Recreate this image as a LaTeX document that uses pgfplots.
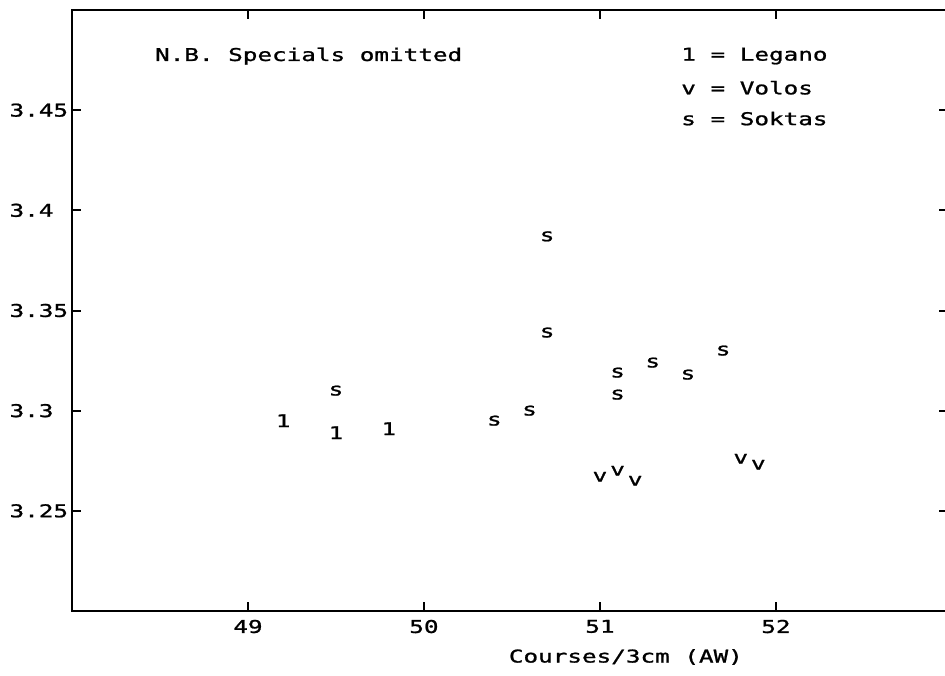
\documentclass[border=0pt]{standalone}
\usepackage{fontspec}
\setmainfont{DejaVu Sans Mono}[FakeStretch=1.38, FakeBold=1.2]
\usepackage{pgfplots}
\pgfplotsset{compat=1.18}

\begin{document}
\fontsize{8.8}{11}\selectfont
\begin{tikzpicture}
% page = 945 x 675 px at 0.5pt per px
\useasboundingbox (-36pt,-32pt) rectangle (436.5pt,305.5pt);
\begin{axis}[
    scale only axis,
    width=438.2pt, height=300.5pt,
    xmin=48, xmax=52.98,
    ymin=3.2, ymax=3.5,
    axis line style={line width=1pt},
    tick style={line width=1pt, black},
    tick align=inside,
    major tick length=4.5pt,
    xtick={49,50,51,52},
    xticklabels={49,50,51,52},
    ytick={3.25,3.3,3.35,3.4,3.45},
    yticklabels={3.25,3.3,3.35,3.4,3.45},
    /pgf/number format/assume math mode=true,
    xticklabel style={yshift=-1.3pt},
    yticklabel style={text width=29pt, align=left, anchor=east, inner xsep=0pt, xshift=-2pt},
    xlabel={Courses/3cm (AW)},
    xlabel style={at={(rel axis cs:0.632,0)}, anchor=center, yshift=-23pt},
    text mark as node=true,
]
\addplot[only marks, mark=text, text mark={1}] coordinates {
    (49.2,3.295) (49.5,3.289) (49.8,3.291)
};
\addplot[only marks, mark=text, text mark={v}] coordinates {
    (51.0,3.267) (51.1,3.270) (51.2,3.265) (51.8,3.276) (51.9,3.273)
};
\addplot[only marks, mark=text, text mark={s}] coordinates {
    (49.5,3.310) (50.4,3.295) (50.6,3.300) (50.7,3.387) (50.7,3.339)
    (51.1,3.319) (51.1,3.308) (51.3,3.324) (51.5,3.318) (51.7,3.330)
};
\node[anchor=west, inner sep=0pt] at (axis cs:48.47,3.4770) {N.B. Specials omitted};
\node[anchor=west, inner sep=0pt] at (axis cs:51.46,3.4770) {1 = Legano};
\node[anchor=west, inner sep=0pt] at (axis cs:51.46,3.4612) {v = Volos};
\node[anchor=west, inner sep=0pt] at (axis cs:51.46,3.4458) {s = Soktas};
\end{axis}
\end{tikzpicture}
\end{document}
